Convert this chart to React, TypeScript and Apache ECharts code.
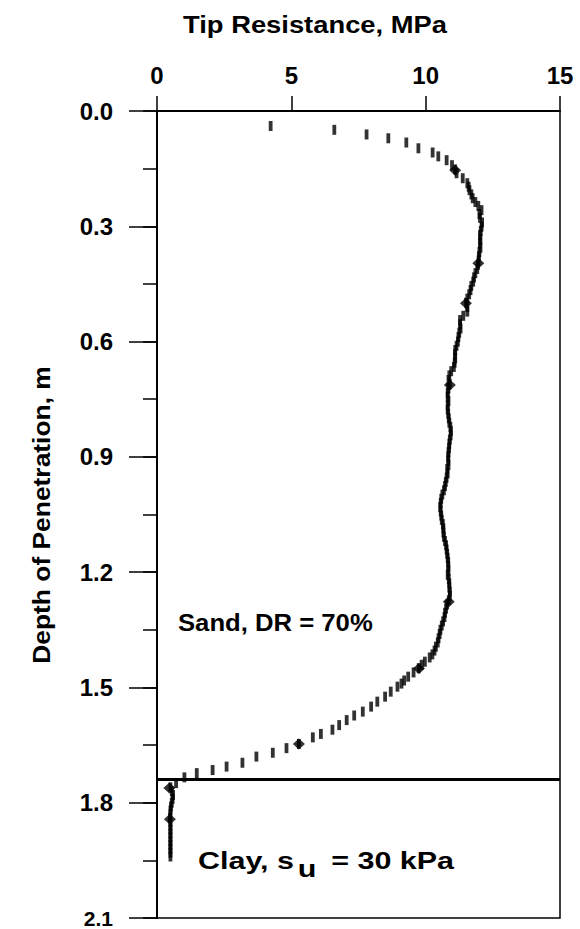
import React, { useEffect, useRef } from "react";
import * as echarts from "echarts";

// Cone penetration record: depth (m) and tip resistance (MPa) of each reading
const readDepth = [
  0.039, 0.049, 0.061, 0.071, 0.082, 0.097, 0.108, 0.118, 0.128, 0.141,
  0.152, 0.162, 0.175, 0.188, 0.197, 0.206, 0.217, 0.227, 0.237, 0.247,
  0.258, 0.268, 0.278, 0.29, 0.301, 0.312, 0.323, 0.334, 0.345, 0.356,
  0.367, 0.378, 0.389, 0.4, 0.411, 0.422, 0.433, 0.444, 0.455, 0.466,
  0.477, 0.488, 0.499, 0.51, 0.522, 0.533, 0.544, 0.555, 0.566, 0.577,
  0.588, 0.6, 0.611, 0.622, 0.633, 0.644, 0.655, 0.666, 0.677, 0.688,
  0.7, 0.711, 0.722, 0.733, 0.744, 0.755, 0.766, 0.777, 0.788, 0.8,
  0.811, 0.822, 0.833, 0.844, 0.855, 0.866, 0.877, 0.888, 0.899, 0.91,
  0.921, 0.932, 0.943, 0.954, 0.965, 0.976, 0.987, 0.998, 1.009, 1.02,
  1.031, 1.042, 1.053, 1.064, 1.075, 1.086, 1.097, 1.108, 1.119, 1.13,
  1.141, 1.152, 1.163, 1.174, 1.185, 1.196, 1.207, 1.218, 1.229, 1.24,
  1.251, 1.262, 1.273, 1.284, 1.295, 1.306, 1.317, 1.328, 1.339, 1.35,
  1.361, 1.372, 1.383, 1.394, 1.404, 1.414, 1.422, 1.433, 1.441, 1.45,
  1.461, 1.472, 1.482, 1.49, 1.498, 1.511, 1.524, 1.537, 1.55, 1.563,
  1.573, 1.585, 1.598, 1.61, 1.621, 1.63, 1.647, 1.658, 1.67, 1.68,
  1.696, 1.706, 1.715, 1.723, 1.734, 1.749, 1.76, 1.77, 1.78, 1.79,
  1.8, 1.81, 1.82, 1.83, 1.84, 1.85, 1.86, 1.87, 1.88, 1.89,
  1.9, 1.91, 1.92, 1.93, 1.94,
];
const readTip = [
  4.23, 6.6, 7.8, 8.61, 9.28, 9.73, 10.26, 10.47, 10.78, 10.98,
  11.1, 11.15, 11.38, 11.55, 11.6, 11.63, 11.7, 11.75, 11.85, 11.96,
  12.08, 12.0, 12.02, 12.1, 12.08, 12.05, 12.02, 12.04, 12.02, 12.04,
  12.0, 11.98, 11.97, 11.95, 11.92, 11.85, 11.8, 11.77, 11.7, 11.67,
  11.62, 11.55, 11.5, 11.55, 11.55, 11.4, 11.28, 11.28, 11.3, 11.25,
  11.22, 11.2, 11.15, 11.1, 11.09, 11.1, 11.08, 11.05, 10.95, 10.88,
  10.85, 10.9, 10.85, 10.82, 10.82, 10.85, 10.82, 10.82, 10.84, 10.86,
  10.88, 10.92, 10.94, 10.93, 10.9, 10.88, 10.87, 10.85, 10.84, 10.84,
  10.85, 10.8, 10.82, 10.78, 10.75, 10.72, 10.68, 10.62, 10.58, 10.56,
  10.54, 10.56, 10.58, 10.6, 10.64, 10.66, 10.66, 10.68, 10.72, 10.76,
  10.78, 10.8, 10.82, 10.84, 10.84, 10.85, 10.82, 10.86, 10.88, 10.88,
  10.9, 10.9, 10.86, 10.8, 10.76, 10.72, 10.7, 10.65, 10.6, 10.55,
  10.52, 10.48, 10.45, 10.38, 10.33, 10.25, 10.15, 9.97, 9.85, 9.74,
  9.55, 9.35, 9.2, 9.1, 8.95, 8.7, 8.49, 8.2, 7.97, 7.66,
  7.34, 7.06, 6.78, 6.53, 6.1, 5.8, 5.28, 4.82, 4.31, 3.7,
  3.18, 2.59, 2.07, 1.48, 1.02, 0.71, 0.5, 0.55, 0.6, 0.58,
  0.55, 0.52, 0.5, 0.5, 0.48, 0.5, 0.5, 0.5, 0.5, 0.5,
  0.5, 0.5, 0.5, 0.5, 0.5,
];

// Highlighted readings (diamond markers)
const markDepth = [0.154, 0.396, 0.5, 0.713, 1.277, 1.451, 1.647, 1.762, 1.843];
const markTip = [11.1, 11.96, 11.5, 10.9, 10.86, 9.75, 5.28, 0.46, 0.48];

// Sand / clay interface
const interfaceDepth = 1.735;

// Axis ranges and tick steps
const tipMin = 0;
const tipMax = 15;
const tipStep = 5;
const depthMin = 0;
const depthMax = 2.1;
const depthMinorStep = 0.15;
const depthMajorStep = 0.3;

const FONT = "'Liberation Sans', Arial, Helvetica, sans-serif";

export default function App() {
  const ref = useRef<HTMLDivElement>(null);

  useEffect(() => {
    if (!ref.current) return;
    const chart = echarts.init(ref.current, null, { renderer: "svg" });

    const readings = readDepth.map((d, i) => [readTip[i], d]);
    const marks = markDepth.map((d, i) => [markTip[i], d]);

    const labelStyle = {
      color: "#000",
      fontFamily: FONT,
      fontWeight: "bold" as const,
      fontSize: 24,
    };

    chart.setOption({
      animation: false,
      backgroundColor: "#fff",
      grid: {
        left: 157,
        top: 111,
        width: 403,
        height: 807,
        show: true,
        borderColor: "#000",
        borderWidth: 1.5,
        backgroundColor: "transparent",
        containLabel: false,
        outerBoundsMode: "none",
      },
      xAxis: {
        type: "value",
        position: "top",
        min: tipMin,
        max: tipMax,
        interval: tipStep,
        axisLine: { show: true, onZero: false, lineStyle: { color: "#000", width: 2 } },
        axisTick: { show: true, inside: false, length: 15, lineStyle: { color: "#000", width: 1.5 } },
        axisLabel: { ...labelStyle, margin: 24 },
        splitLine: { show: false },
      },
      yAxis: [
        {
          type: "value",
          position: "left",
          inverse: true,
          min: depthMin,
          max: depthMax,
          interval: depthMinorStep,
          axisLine: { show: true, onZero: false, lineStyle: { color: "#000", width: 2 } },
          axisTick: { show: true, inside: false, length: 14, lineStyle: { color: "#000", width: 1.5 } },
          axisLabel: { show: false },
          splitLine: { show: false },
        },
        {
          type: "value",
          position: "left",
          offset: 0,
          inverse: true,
          min: depthMin,
          max: depthMax,
          interval: depthMajorStep,
          axisLine: { show: false, onZero: false },
          axisTick: { show: true, inside: false, length: 28, lineStyle: { color: "#000", width: 1.5 } },
          axisLabel: {
            ...labelStyle,
            lineHeight: 20,
            margin: 44,
            formatter: (v: number) =>
              v >= depthMax - 0.01 ? `{e|${v.toFixed(1)}}` : v.toFixed(1),
            rich: {
              e: {
                color: "#000",
                fontFamily: FONT,
                fontWeight: "bold",
                fontSize: 21,
                lineHeight: 20,
              },
            },
          },
          splitLine: { show: false },
        },
      ],
      series: [
        {
          type: "scatter",
          name: "readings",
          xAxisIndex: 0,
          yAxisIndex: 0,
          data: readings,
          symbol: "rect",
          symbolSize: [3.8, 10],
          itemStyle: { color: "#000" },
          markLine: {
            silent: true,
            symbol: ["none", "none"],
            label: { show: false },
            lineStyle: { color: "#000", width: 3, type: "solid" },
            data: [{ yAxis: interfaceDepth }],
          },
        },
        {
          type: "scatter",
          name: "marks",
          xAxisIndex: 0,
          yAxisIndex: 0,
          data: marks,
          symbol: "diamond",
          symbolSize: [12, 11],
          itemStyle: { color: "#000" },
        },
      ],
      graphic: [
        {
          type: "text",
          x: 315,
          y: 25,
          scaleX: 1.14,
          style: {
            text: "Tip Resistance, MPa",
            fill: "#000",
            font: `bold 24px ${FONT}`,
            align: "center",
            verticalAlign: "middle",
          },
        },
        {
          type: "text",
          x: 41,
          y: 515,
          rotation: Math.PI / 2,
          scaleX: 1.1,
          style: {
            text: "Depth of Penetration, m",
            fill: "#000",
            font: `bold 24px ${FONT}`,
            align: "center",
            verticalAlign: "middle",
          },
        },
        {
          type: "text",
          x: 178,
          y: 623,
          scaleX: 1.07,
          style: {
            text: "Sand, DR = 70%",
            fill: "#000",
            font: `bold 24px ${FONT}`,
            align: "left",
            verticalAlign: "middle",
          },
        },
        {
          type: "text",
          x: 198,
          y: 862,
          scaleX: 1.27,
          style: {
            text: "{n|Clay, s}{s|u}{n| = 30 kPa}",
            fill: "#000",
            font: `bold 24px ${FONT}`,
            align: "left",
            verticalAlign: "middle",
            rich: {
              n: { fontSize: 24, fontWeight: "bold", fontFamily: FONT, lineHeight: 26, verticalAlign: "top" },
              s: { fontSize: 24, fontWeight: "bold", fontFamily: FONT, lineHeight: 26, padding: [8, 5, 0, 3], verticalAlign: "top" },
            },
          },
        },
      ],
    });

    return () => chart.dispose();
  }, []);

  return (
    <div
      ref={ref}
      style={{ position: "fixed", left: 0, top: 0, width: 580, height: 929, background: "#fff" }}
    />
  );
}
